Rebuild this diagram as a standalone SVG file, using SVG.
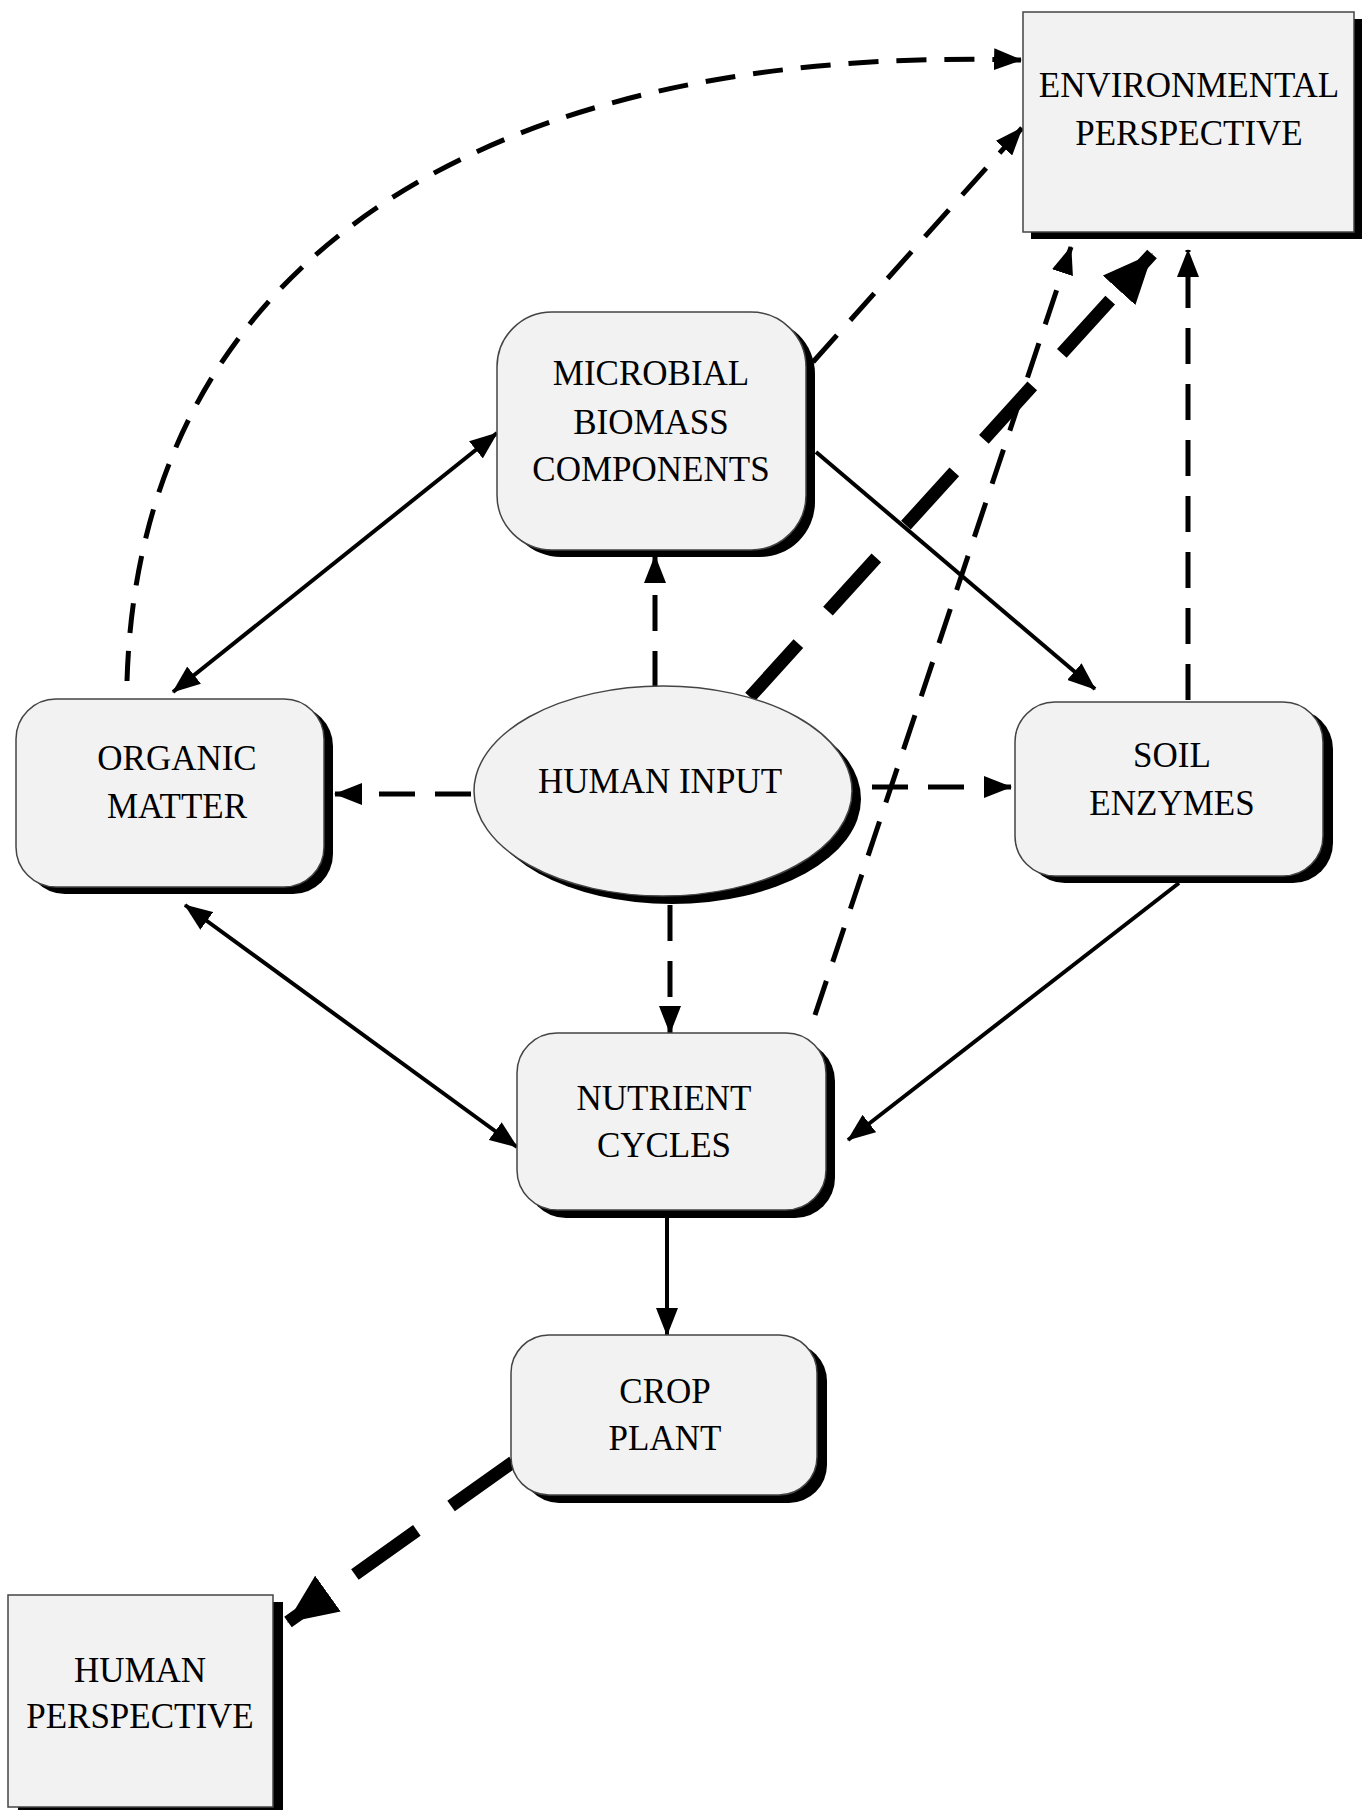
<svg xmlns="http://www.w3.org/2000/svg" width="1371" height="1810" viewBox="0 0 1371 1810">
<style>
.box{fill:#f2f2f2;stroke:#444;stroke-width:1.5}
.sh{fill:#000}
.t{font-family:"Liberation Serif","Times New Roman",serif;font-size:35px;fill:#000;text-anchor:middle}
.s{fill:none;stroke:#000;stroke-width:4}
.d{fill:none;stroke:#000;stroke-width:5;stroke-dasharray:36 20}
.dc{fill:none;stroke:#000;stroke-width:5;stroke-dasharray:30 18}
.k{fill:none;stroke:#000;stroke-width:13;stroke-dasharray:72 44}
</style>
<defs>
<marker id="a" markerUnits="userSpaceOnUse" markerWidth="28" markerHeight="22" refX="27" refY="11" orient="auto-start-reverse" viewBox="0 0 28 22">
<path d="M0,0 L28,11 L0,22 z" fill="#000"/>
</marker>
<marker id="b" markerUnits="userSpaceOnUse" markerWidth="50" markerHeight="44" refX="49" refY="22" orient="auto" viewBox="0 0 50 44">
<path d="M0,0 L50,22 L0,44 z" fill="#000"/>
</marker>
</defs>
<g id="connectors">
<path class="dc" d="M127,681 C140,250 500,45 1021,60" marker-end="url(#a)"/>
<line class="d" x1="813" y1="362" x2="1022" y2="128" marker-end="url(#a)"/>
<line class="k" x1="750" y1="697" x2="1152" y2="254" marker-end="url(#b)"/>
<line class="d" x1="815" y1="1015" x2="1071" y2="247" marker-end="url(#a)"/>
<line class="d" x1="1188" y1="700" x2="1188" y2="250" marker-end="url(#a)"/>
<line class="s" x1="173" y1="692" x2="497" y2="433" marker-start="url(#a)" marker-end="url(#a)"/>
<line class="s" x1="816" y1="452" x2="1095" y2="689" marker-end="url(#a)"/>
<line class="d" x1="655" y1="687" x2="655" y2="556" marker-end="url(#a)"/>
<line class="d" x1="471" y1="794" x2="335" y2="794" marker-end="url(#a)"/>
<line class="d" x1="872" y1="787" x2="1011" y2="787" marker-end="url(#a)"/>
<line class="d" x1="670" y1="905" x2="670" y2="1033" marker-end="url(#a)"/>
<line class="s" x1="185" y1="905" x2="517" y2="1147" marker-start="url(#a)" marker-end="url(#a)"/>
<line class="s" x1="1179" y1="883" x2="848" y2="1140" marker-end="url(#a)"/>
<line class="s" x1="667" y1="1218" x2="667" y2="1335" marker-end="url(#a)"/>
<line class="k" x1="513" y1="1462" x2="288" y2="1622" marker-end="url(#b)" style="stroke-dasharray:76 42"/>
</g>
<g id="env-perspective">
<rect class="sh" x="1031" y="19" width="331" height="220"/>
<rect class="box" x="1023" y="12" width="331" height="220"/>
<text class="t" x="1189" y="97">ENVIRONMENTAL</text>
<text class="t" x="1189" y="145">PERSPECTIVE</text>
</g>
<g id="microbial">
<rect class="sh" x="506" y="319" width="309" height="238" rx="55"/>
<rect class="box" x="497" y="312" width="309" height="238" rx="55"/>
<text class="t" x="651" y="385">MICROBIAL</text>
<text class="t" x="651" y="434">BIOMASS</text>
<text class="t" x="651" y="481">COMPONENTS</text>
</g>
<g id="organic-matter">
<rect class="sh" x="25" y="706" width="308" height="188" rx="40"/>
<rect class="box" x="16" y="699" width="308" height="188" rx="40"/>
<text class="t" x="177" y="770">ORGANIC</text>
<text class="t" x="177" y="818">MATTER</text>
</g>
<g id="human-input">
<ellipse class="sh" cx="672" cy="799" rx="189" ry="105"/>
<ellipse class="box" cx="663" cy="791" rx="189" ry="105"/>
<text class="t" x="660" y="793">HUMAN INPUT</text>
</g>
<g id="soil-enzymes">
<rect class="sh" x="1025" y="709" width="308" height="174" rx="40"/>
<rect class="box" x="1015" y="702" width="308" height="174" rx="40"/>
<text class="t" x="1172" y="767">SOIL</text>
<text class="t" x="1172" y="815">ENZYMES</text>
</g>
<g id="nutrient-cycles">
<rect class="sh" x="526" y="1041" width="309" height="177" rx="40"/>
<rect class="box" x="517" y="1033" width="309" height="177" rx="40"/>
<text class="t" x="664" y="1110">NUTRIENT</text>
<text class="t" x="664" y="1157">CYCLES</text>
</g>
<g id="crop-plant">
<rect class="sh" x="521" y="1343" width="306" height="160" rx="38"/>
<rect class="box" x="511" y="1335" width="306" height="160" rx="38"/>
<text class="t" x="665" y="1403">CROP</text>
<text class="t" x="665" y="1450">PLANT</text>
</g>
<g id="human-perspective">
<rect class="sh" x="18" y="1602" width="265" height="220"/>
<rect class="box" x="8" y="1595" width="265" height="212"/>
<text class="t" x="140" y="1682">HUMAN</text>
<text class="t" x="140" y="1728">PERSPECTIVE</text>
</g>
</svg>
